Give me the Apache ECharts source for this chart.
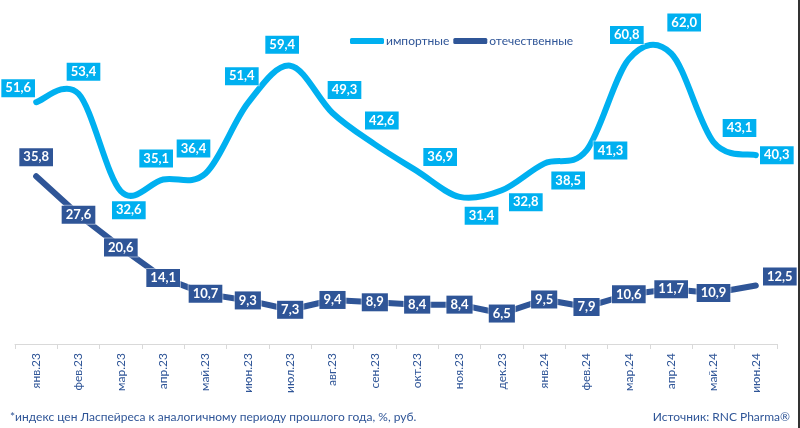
<!DOCTYPE html>
<html><head><meta charset="utf-8">
<script src="https://cdn.jsdelivr.net/npm/echarts@6/dist/echarts.min.js"></script>
<style>html,body{margin:0;padding:0;background:#fff}#c{width:800px;height:428px}</style>
</head><body><div id="c"></div>
<script>
const categories = ['янв.23','фев.23','мар.23','апр.23','май.23','июн.23','июл.23','авг.23','сен.23','окт.23','ноя.23','дек.23','янв.24','фев.24','мар.24','апр.24','май.24','июн.24'];
const imported = [51.6,53.4,32.6,35.1,36.4,51.4,59.4,49.3,42.6,36.9,31.4,32.8,38.5,41.3,60.8,62.0,43.1,40.3];
const domestic = [35.8,27.6,20.6,14.1,10.7,9.3,7.3,9.4,8.9,8.4,8.4,6.5,9.5,7.9,10.6,11.7,10.9,12.5];
const seriesNames = ['импортные','отечественные'];

// label offsets (style)
const impOff = [[-18,-14],[5,-22],[8,19],[-7,-21],[-12,-25],[-6,-27],[-8,-21],[12,-23],[7,-24],[23,-14],[22,19],[24,12],[24,17],[24,0],[-2,-24],[13,-31],[26,-14],[21,0]];
const domOff = domestic.map(()=>[0,0]); domOff[0]=[0,-19]; domOff[17]=[24,-9];

const C1='#00B0F0', C2='#2F5597', TXT='#2F5597';
const FONT='Lato, "Noto Sans", sans-serif';
const fmt = v => v.toFixed(1).replace('.',',');
function labelCfg(color){
  return {show:true, position:'inside', color:'#fff', fontWeight:'bold', fontSize:13,
    fontFamily:FONT, backgroundColor:color, padding:[3,4,2,4],
    borderColor:'rgba(255,255,255,0.5)', borderWidth:1,
    formatter:p=>fmt(p.value)};
}
const impData = imported.map((v,i)=>({value:v, label:{offset:impOff[i]}}));
const domData = domestic.map((v,i)=>({value:v, label:{offset:domOff[i]}}));

// Catmull-Rom smoothed curve (Excel-like) through the axis coordinates
function renderSmooth(params, api){
  const pts = imported.map((v,i)=>api.coord([i, v]));
  let d = 'M' + pts[0][0] + ' ' + pts[0][1];
  for (let i=0;i<pts.length-1;i++){
    const p0 = pts[Math.max(i-1,0)], p1 = pts[i], p2 = pts[i+1], p3 = pts[Math.min(i+2,pts.length-1)];
    const c1 = [p1[0]+(p2[0]-p0[0])/6, p1[1]+(p2[1]-p0[1])/6];
    const c2 = [p2[0]-(p3[0]-p1[0])/6, p2[1]-(p3[1]-p1[1])/6];
    d += ' C' + c1[0] + ' ' + c1[1] + ' ' + c2[0] + ' ' + c2[1] + ' ' + p2[0] + ' ' + p2[1];
  }
  return {type:'path', shape:{pathData:d}, style:{fill:null, stroke:C1, lineWidth:6, lineCap:'round', lineJoin:'round'}};
}

const chart = echarts.init(document.getElementById('c'));
chart.setOption({
  animation:false,
  textStyle:{fontFamily:FONT},
  grid:{left:15,right:23,top:16,bottom:84},
  legend:{top:30,left:345,itemWidth:34,itemHeight:6,itemGap:4,icon:'roundRect',
    textStyle:{color:TXT,fontSize:12,padding:[0,0,0,-3]},
    data:[{name:seriesNames[0],itemStyle:{color:C1,opacity:1}},{name:seriesNames[1],itemStyle:{color:C2,opacity:1}}]},
  xAxis:{type:'category',data:categories,boundaryGap:true,
    axisLine:{lineStyle:{color:'#d9d9d9',width:1}},
    axisTick:{show:true,length:5,lineStyle:{color:'#d9d9d9'}},
    axisLabel:{rotate:90,color:TXT,fontSize:12,margin:9}},
  yAxis:{type:'value',min:0,max:70,show:false,splitLine:{show:false}},
  series:[
    {name:'curve',type:'custom',data:[0],renderItem:renderSmooth,silent:true,z:2},
    {name:seriesNames[0],type:'line',data:impData,symbol:'circle',symbolSize:1,
      itemStyle:{color:C1},lineStyle:{color:C1,width:0,opacity:0},label:labelCfg(C1),z:3},
    {name:seriesNames[1],type:'line',data:domData,smooth:false,symbol:'circle',symbolSize:1,
      itemStyle:{color:C2},lineStyle:{color:C2,width:6,cap:'round',join:'round'},label:labelCfg(C2),z:4}
  ],
  graphic:[
    {type:'text',left:10,top:411,style:{text:'*индекс цен Ласпейреса к аналогичному периоду прошлого года, %, руб.',fill:TXT,fontSize:12,fontFamily:FONT}},
    {type:'text',right:10,top:411,style:{text:'Источник: RNC Pharma®',fill:TXT,fontSize:12,fontFamily:FONT}},
    {type:'rect',left:798,top:0,shape:{width:2,height:428},style:{fill:'#333'}}
  ]
});
</script></body></html>
